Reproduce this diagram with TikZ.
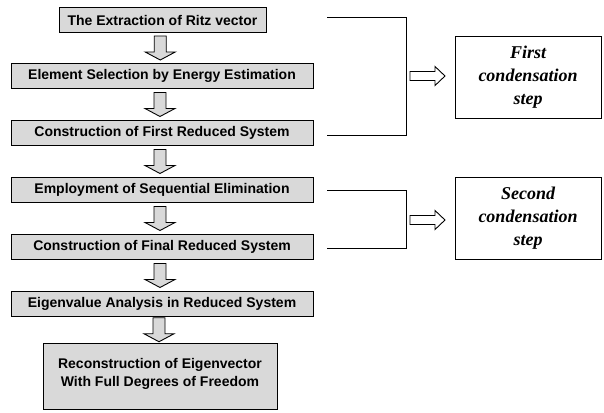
\documentclass[tikz,border=0pt]{standalone}
\usepackage{fontspec}
\setmainfont{Liberation Serif}
\setsansfont{Liberation Sans}
\usetikzlibrary{calc}

\tikzset{
	stepbox/.style={draw, line width=0.9pt, fill=gray!30, inner sep=2pt,
		font=\sffamily\bfseries\fontsize{14}{18}\selectfont, minimum height=25pt},
	notebox/.style={draw, line width=0.9pt, fill=white, align=center,
		font=\bfseries\itshape\fontsize{18}{23}\selectfont,
		minimum width=146pt, minimum height=82pt},
	hollow/.style={draw, line width=0.9pt, fill=gray!30},
	bracket/.style={line width=1pt}
}
% hollow block arrows
\newcommand{\downarr}[2]{\draw[hollow] ($(#1.south)!0.5!(#2.north)+(-8,-12)$)
	-- ++(12,0) -- ++(0,16) -- ++(9,0) -- ++(-15,8) -- ++(-15,-8) -- ++(9,0) -- cycle;}
\newcommand{\rightarr}[1]{\draw[hollow, fill=white] ($(#1)+(-17.5,-4.5)$)
	-- ++(25,0) -- ++(0,-5) -- ++(10,9.5) -- ++(-10,9.5) -- ++(0,-5) -- ++(-25,0) -- cycle;}

\begin{document}
\begin{tikzpicture}[x=1pt, y=-1pt]
	\useasboundingbox (0,0) rectangle (604,412);
	
	\node[stepbox, minimum width=207pt] (ritz) at (162.5,20) {The Extraction of Ritz vector};
	\node[stepbox, minimum width=302pt] (energy) at (162,76) {Element Selection by Energy Estimation};
	\node[stepbox, minimum width=302pt] (first) at (162,133) {Construction of First Reduced System};
	\node[stepbox, minimum width=302pt] (seq) at (162,190) {Employment of Sequential Elimination};
	\node[stepbox, minimum width=302pt] (final) at (162,247) {Construction of Final Reduced System};
	\node[stepbox, minimum width=302pt] (eigen) at (162,304) {Eigenvalue Analysis in Reduced System};
	\node[stepbox, minimum width=234pt, minimum height=66pt, align=center] (recon) at (160,376)
		{Reconstruction of Eigenvector\\With Full Degrees of Freedom\\[-10pt]};
	
	\foreach \a/\b in {ritz/energy, energy/first, first/seq, seq/final, final/eigen, eigen/recon}
		\downarr{\a}{\b};
	
	% first condensation
	\coordinate (k1a) at (327,18);
	\coordinate (k1b) at (406,18);
	\coordinate (k1c) at (406,135);
	\coordinate (k1d) at (327,135);
	\draw[bracket] (k1a) -- (k1b) -- (k1c) -- (k1d);
	\coordinate (r1) at (427.5,76);
	\rightarr{r1}
	\node[notebox] (cond1) at (528,77) {First\\condensation\\step};
	
	% second condensation
	\coordinate (k2a) at (327,190);
	\coordinate (k2b) at (406,190);
	\coordinate (k2c) at (406,248);
	\coordinate (k2d) at (327,248);
	\draw[bracket] (k2a) -- (k2b) -- (k2c) -- (k2d);
	\coordinate (r2) at (427.5,220);
	\rightarr{r2}
	\node[notebox] (cond2) at (528,218.5) {Second\\condensation\\step};
\end{tikzpicture}
\end{document}
